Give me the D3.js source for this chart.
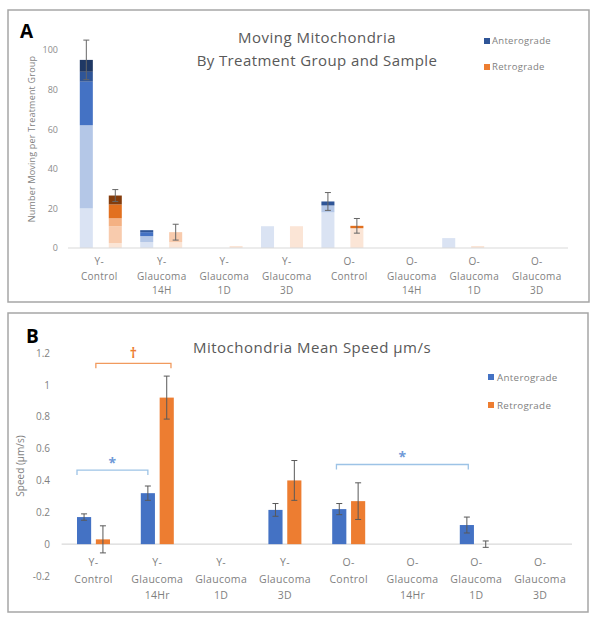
<!DOCTYPE html>
<html><head><meta charset="utf-8">
<script src="https://cdn.jsdelivr.net/npm/d3@7"></script>
<style>body{margin:0;background:#fff}svg{display:block}text{font-family:"Open Sans",sans-serif}</style>
</head><body>
<svg id="c" width="599" height="622"></svg>
<script>
// ---------- DATA ----------
const catLabelsA = [["Y-","Control"],["Y-","Glaucoma","14H"],["Y-","Glaucoma","1D"],["Y-","Glaucoma","3D"],["O-","Control"],["O-","Glaucoma","14H"],["O-","Glaucoma","1D"],["O-","Glaucoma","3D"]];
const catLabelsB = [["Y-","Control"],["Y-","Glaucoma","14Hr"],["Y-","Glaucoma","1D"],["Y-","Glaucoma","3D"],["O-","Control"],["O-","Glaucoma","14Hr"],["O-","Glaucoma","1D"],["O-","Glaucoma","3D"]];
// Panel A: stacked per-sample counts (stack level 0..4)
const anteSamplesA = [[20,42,22,5,6],[3,3,2,1],[],[11],[18,3.5,0,2],[],[5],[]];
const retroSamplesA = [[2.5,8.5,4,7,4.5],[3,5],[1],[11],[10,0,0,1.2],[],[1],[]];
const anteErrA = [10,null,null,null,4.5,null,null,null];
const retroErrA = [3,4,null,null,3.7,null,null,null];
const anteShades = ["#dae3f3","#b4c7e7","#4472c4","#2f5597","#1f3864"];
const retroShades = ["#fbe5d6","#f8cbad","#f4b183","#e2701f","#843c0c"];
const yTicksA = [0,20,40,60,80,100];
// Panel B: mean speed
const anteB = [0.17,0.32,null,0.215,0.22,null,0.12,null];
const anteErrB = [0.02,0.045,null,0.04,0.035,null,0.05,null];
const retroB = [0.03,0.92,null,0.40,0.27,null,0.0,null];
const retroErrB = [0.085,0.135,null,0.125,0.115,null,0.02,null];
const yTicksB = [-0.2,0,0.2,0.4,0.6,0.8,1,1.2];
// significance brackets: [cat, series, edgeFraction]
const brackets = [
  {a:[0,"retro",0],b:[1,"retro",0.8],y:1.135,sym:"†",color:"#f19a5e",symColor:"#ed7d31",symY:1.2},
  {a:[0,"ante",0],b:[1,"ante",0.5],y:0.465,sym:"*",color:"#9dc3e6",symColor:"#6f9ad8",symY:0.51},
  {a:[4,"ante",0.3],b:[6,"ante",0.6],y:0.50,sym:"*",color:"#9dc3e6",symColor:"#6f9ad8",symY:0.55}
];

const svg = d3.select("#c");
const grey = "#595959";

// panel frames
[[8,10,581,292],[8,313,580,299]].forEach(r=>{
  svg.append("rect").attr("x",r[0]).attr("y",r[1]).attr("width",r[2]).attr("height",r[3])
    .attr("fill","none").attr("stroke","#a6a6a6").attr("stroke-width",1.5);
});

// ---------- PANEL A ----------
const xA = d3.scaleBand().domain(d3.range(8)).range([70.6,553.8]);
const xAlab = d3.scaleBand().domain(d3.range(8)).range([68,568]);
const subA = d3.scaleBand().domain(["ante","retro"]).range([-21,21]).paddingInner(0.55);
const yA = d3.scaleLinear().domain([0,100]).range([248,50]);
const gA = svg.append("g");

svg.append("text").attr("x",20).attr("y",38).text("A").attr("font-family","Liberation Sans, Arial").attr("font-weight","bold").attr("font-size",19).attr("fill","#000");
svg.append("text").attr("x",317).attr("y",43).attr("text-anchor","middle").attr("font-size",15).attr("letter-spacing",0.5).attr("fill",grey).text("Moving Mitochondria");
svg.append("text").attr("x",317).attr("y",66).attr("text-anchor","middle").attr("font-size",15).attr("letter-spacing",0.4).attr("fill",grey).text("By Treatment Group and Sample");

// y axis
const axA = gA.append("g").attr("transform","translate(58,0)").call(d3.axisLeft(yA).tickValues(yTicksA).tickSize(0).tickPadding(0));
axA.select(".domain").remove();
axA.selectAll("text").attr("font-size",9).attr("fill","#8c8c8c").attr("font-family","Open Sans");
gA.append("text").attr("transform","translate(35,139) rotate(-90)").attr("text-anchor","middle").attr("font-size",9).attr("letter-spacing",0.2).attr("fill","#7f7f7f").text("Number Moving per Treatment Group");

function drawStacks(samples, series, shades){
  samples.forEach((segs,i)=>{
    let acc=0;
    segs.forEach((v,k)=>{
      if(v>0){
        gA.append("rect").attr("x",xA(i)+xA.bandwidth()/2+subA(series)).attr("width",subA.bandwidth())
          .attr("y",yA(acc+v)).attr("height",yA(acc)-yA(acc+v)).attr("fill",shades[k]);
      }
      acc+=v;
    });
  });
}
drawStacks(anteSamplesA,"ante",anteShades);
drawStacks(retroSamplesA,"retro",retroShades);
gA.append("line").attr("x1",xAlab.range()[0]).attr("x2",xAlab.range()[1]).attr("y1",yA(0)).attr("y2",yA(0)).attr("stroke","#d9d9d9").attr("stroke-width",1.2);

function errBars(g, x, sub, y, vals, errs, series, color){
  vals.forEach((v,i)=>{
    const e=errs[i]; if(e==null||v==null) return;
    const cx = x(i)+x.bandwidth()/2+sub(series)+sub.bandwidth()/2;
    g.append("line").attr("x1",cx).attr("x2",cx).attr("y1",y(v-e)).attr("y2",y(v+e)).attr("stroke",color).attr("stroke-width",1);
    [v-e,v+e].forEach(t=>g.append("line").attr("x1",cx-3).attr("x2",cx+3).attr("y1",y(t)).attr("y2",y(t)).attr("stroke",color).attr("stroke-width",1));
  });
}
const totA = a=>a.map(s=>d3.sum(s));
errBars(gA,xA,subA,yA,totA(anteSamplesA),anteErrA,"ante","#666");
errBars(gA,xA,subA,yA,totA(retroSamplesA),retroErrA,"retro","#666");

catLabelsA.forEach((lines,i)=>{
  const t = gA.append("text").attr("text-anchor","middle").attr("font-size",10).attr("letter-spacing",0.3).attr("fill","#7f7f7f");
  lines.forEach((l,k)=>t.append("tspan").attr("x",xAlab(i)+xAlab.bandwidth()/2).attr("y",265+k*14.5).text(l));
});

// legend A
[["Anterograde","#2f5597",41],["Retrograde","#ed7d31",67]].forEach(d=>{
  gA.append("rect").attr("x",484).attr("y",d[2]-3).attr("width",6).attr("height",6).attr("fill",d[1]);
  gA.append("text").attr("x",492).attr("y",d[2]+3).attr("font-size",9.5).attr("letter-spacing",0.3).attr("fill","#7f7f7f").text(d[0]);
});

// ---------- PANEL B ----------
const xB = d3.scaleBand().domain(d3.range(8)).range([61.6,572]);
const subB = d3.scaleBand().domain(["ante","retro"]).range([-16.5,16.5]).paddingInner(0.25);
const yB = d3.scaleLinear().domain([-0.2,1.2]).range([576,353]);
const gB = svg.append("g");
const colB = {ante:"#4472c4",retro:"#ed7d31"};

svg.append("text").attr("x",26).attr("y",343).text("B").attr("font-family","Liberation Sans, Arial").attr("font-weight","bold").attr("font-size",19).attr("fill","#000");
svg.append("text").attr("x",312).attr("y",353).attr("text-anchor","middle").attr("font-size",15).attr("letter-spacing",0.5).attr("fill",grey).text("Mitochondria Mean Speed µm/s");

const axB = gB.append("g").attr("transform","translate(50,0)").call(d3.axisLeft(yB).tickValues(yTicksB).tickFormat(d=>String(+d.toFixed(1))).tickSize(0).tickPadding(0));
axB.select(".domain").remove();
axB.selectAll("text").attr("font-size",10).attr("fill","#7f7f7f").attr("font-family","Open Sans");
gB.append("text").attr("transform","translate(24,466) rotate(-90)").attr("text-anchor","middle").attr("font-size",10).attr("fill","#7f7f7f").text("Speed (µm/s)");

gB.append("line").attr("x1",xB.range()[0]).attr("x2",xB.range()[1]).attr("y1",yB(0)).attr("y2",yB(0)).attr("stroke","#d9d9d9").attr("stroke-width",1.2);

[["ante",anteB],["retro",retroB]].forEach(([s,vals])=>{
  vals.forEach((v,i)=>{
    if(v==null) return;
    gB.append("rect").attr("x",xB(i)+xB.bandwidth()/2+subB(s)).attr("width",subB.bandwidth())
      .attr("y",yB(Math.max(0,v))).attr("height",Math.abs(yB(v)-yB(0))).attr("fill",colB[s]);
  });
});
errBars(gB,xB,subB,yB,anteB,anteErrB,"ante","#595959");
errBars(gB,xB,subB,yB,retroB,retroErrB,"retro","#595959");

catLabelsB.forEach((lines,i)=>{
  const t = gB.append("text").attr("text-anchor","middle").attr("font-size",10.5).attr("letter-spacing",0.3).attr("fill","#7f7f7f");
  lines.forEach((l,k)=>t.append("tspan").attr("x",xB(i)+xB.bandwidth()/2).attr("y",566+k*16.5).text(l));
});

// brackets
const bx = ([c,s,f])=>xB(c)+xB.bandwidth()/2+subB(s)+f*subB.bandwidth();
brackets.forEach(b=>{
  const x0=bx(b.a), x1=bx(b.b), yy=yB(b.y);
  gB.append("path").attr("d",`M${x0},${yy+5}L${x0},${yy}L${x1},${yy}L${x1},${yy+5}`).attr("fill","none").attr("stroke",b.color).attr("stroke-width",1.3);
  gB.append("text").attr("x",(x0+x1)/2).attr("y",yB(b.symY)+5).attr("text-anchor","middle").attr("font-size",14).attr("font-weight","bold").attr("fill",b.symColor).text(b.sym);
});

// legend B
[["Anterograde","#4472c4",377],["Retrograde","#ed7d31",405]].forEach(d=>{
  gB.append("rect").attr("x",488).attr("y",d[2]-3).attr("width",6).attr("height",6).attr("fill",d[1]);
  gB.append("text").attr("x",497).attr("y",d[2]+3.5).attr("font-size",9.8).attr("letter-spacing",0.3).attr("fill","#7f7f7f").text(d[0]);
});
</script>
</body></html>
